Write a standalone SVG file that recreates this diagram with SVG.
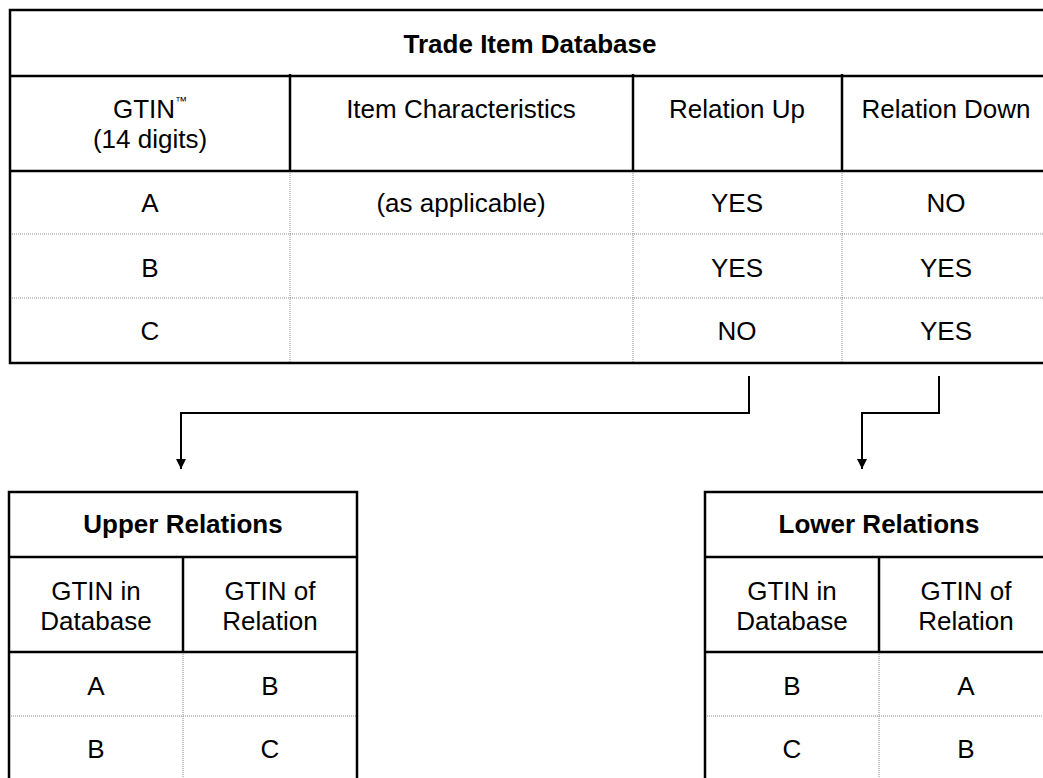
<svg xmlns="http://www.w3.org/2000/svg" width="1043" height="778" viewBox="0 0 1043 778">
<style>
  .t { font-family: "Liberation Sans", Arial, sans-serif; font-size: 26px; fill: #000; text-anchor: middle; }
  .b { font-weight: bold; }
  .thick { stroke: #000; stroke-width: 2.5; fill: none; }
  .dot { stroke: #8a8a8a; stroke-width: 1; stroke-dasharray: 1 1; fill: none; }
  .conn { stroke: #000; stroke-width: 2; fill: none; }
</style>
<defs>
  <marker id="arr" viewBox="0 0 10 10" refX="10" refY="5" markerWidth="10" markerHeight="10" markerUnits="userSpaceOnUse" orient="auto">
    <path d="M0,0 L10,5 L0,10 Z" fill="#000"/>
  </marker>
</defs>
<rect width="1043" height="778" fill="#fff"/>

<g id="trade-item-database">
  <line class="dot" x1="10" y1="234" x2="1050" y2="234"/>
  <line class="dot" x1="10" y1="298" x2="1050" y2="298"/>
  <line class="dot" x1="290" y1="171" x2="290" y2="363"/>
  <line class="dot" x1="633" y1="171" x2="633" y2="363"/>
  <line class="dot" x1="842" y1="171" x2="842" y2="363"/>
  <rect class="thick" x="10" y="10" width="1040" height="353"/>
  <line class="thick" x1="10" y1="76" x2="1050" y2="76"/>
  <line class="thick" x1="10" y1="171" x2="1050" y2="171"/>
  <line class="thick" x1="290" y1="74" x2="290" y2="171"/>
  <line class="thick" x1="633" y1="74" x2="633" y2="171"/>
  <line class="thick" x1="842" y1="74" x2="842" y2="171"/>
  <text class="t b" x="530" y="53">Trade Item Database</text>
  <text class="t" x="150" y="118">GTIN<tspan font-size="12" dy="-13">™</tspan></text>
  <text class="t" x="150" y="148">(14 digits)</text>
  <text class="t" x="461" y="118">Item Characteristics</text>
  <text class="t" x="737" y="118">Relation Up</text>
  <text class="t" x="946" y="118">Relation Down</text>
  <text class="t" x="150" y="212">A</text>
  <text class="t" x="461" y="212">(as applicable)</text>
  <text class="t" x="737" y="212">YES</text>
  <text class="t" x="946" y="212">NO</text>
  <text class="t" x="150" y="277">B</text>
  <text class="t" x="737" y="277">YES</text>
  <text class="t" x="946" y="277">YES</text>
  <text class="t" x="150" y="340">C</text>
  <text class="t" x="737" y="340">NO</text>
  <text class="t" x="946" y="340">YES</text>
</g>

<g id="connectors">
  <polyline class="conn" points="749,376 749,413 181,413 181,469" marker-end="url(#arr)"/>
  <polyline class="conn" points="939,376 939,413 862,413 862,469" marker-end="url(#arr)"/>
</g>

<g id="upper-relations">
  <line class="dot" x1="9" y1="716" x2="357" y2="716"/>
  <line class="dot" x1="183" y1="652" x2="183" y2="780"/>
  <rect class="thick" x="9" y="492" width="348" height="290"/>
  <line class="thick" x1="9" y1="557" x2="357" y2="557"/>
  <line class="thick" x1="9" y1="652" x2="357" y2="652"/>
  <line class="thick" x1="183" y1="557" x2="183" y2="652"/>
  <text class="t b" x="183" y="533">Upper Relations</text>
  <text class="t" x="96" y="600">GTIN in</text>
  <text class="t" x="96" y="630">Database</text>
  <text class="t" x="270" y="600">GTIN of</text>
  <text class="t" x="270" y="630">Relation</text>
  <text class="t" x="96" y="695">A</text>
  <text class="t" x="270" y="695">B</text>
  <text class="t" x="96" y="758">B</text>
  <text class="t" x="270" y="758">C</text>
</g>

<g id="lower-relations">
  <line class="dot" x1="705" y1="716" x2="1053" y2="716"/>
  <line class="dot" x1="879" y1="652" x2="879" y2="780"/>
  <rect class="thick" x="705" y="492" width="348" height="290"/>
  <line class="thick" x1="705" y1="557" x2="1053" y2="557"/>
  <line class="thick" x1="705" y1="652" x2="1053" y2="652"/>
  <line class="thick" x1="879" y1="557" x2="879" y2="652"/>
  <text class="t b" x="879" y="533">Lower Relations</text>
  <text class="t" x="792" y="600">GTIN in</text>
  <text class="t" x="792" y="630">Database</text>
  <text class="t" x="966" y="600">GTIN of</text>
  <text class="t" x="966" y="630">Relation</text>
  <text class="t" x="792" y="695">B</text>
  <text class="t" x="966" y="695">A</text>
  <text class="t" x="792" y="758">C</text>
  <text class="t" x="966" y="758">B</text>
</g>
</svg>
